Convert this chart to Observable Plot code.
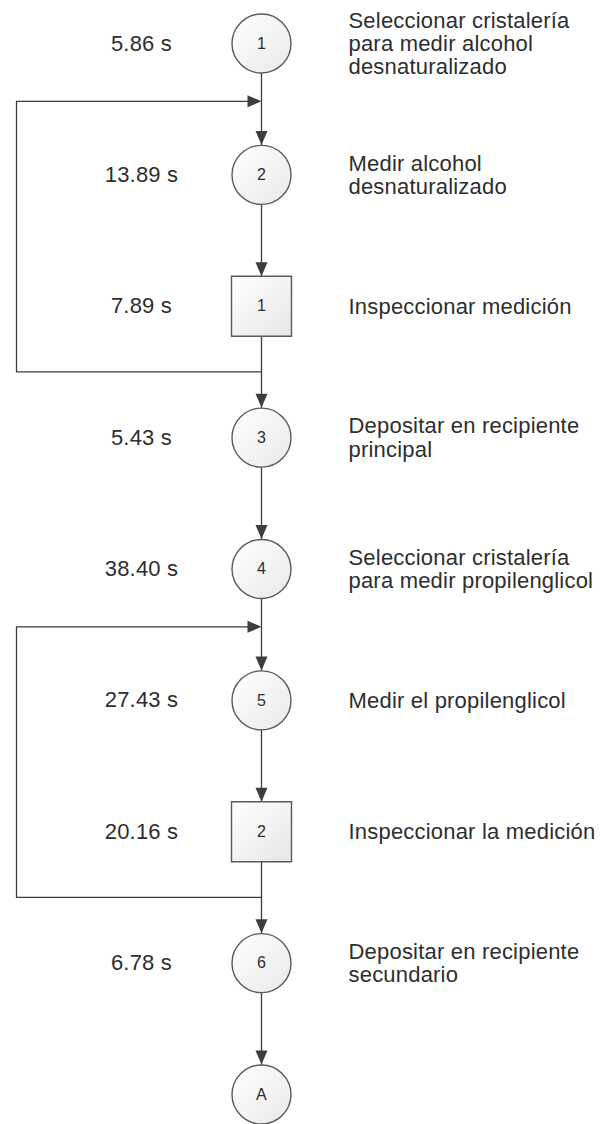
<!DOCTYPE html>
<html><head><meta charset="utf-8">
<script src="https://cdn.jsdelivr.net/npm/d3@7"></script>
<script src="https://cdn.jsdelivr.net/npm/@observablehq/plot@0.6"></script>
<style>html,body{margin:0;padding:0;background:#fff}#chart svg{display:block}</style>
</head><body><div id="chart"></div>
<script>
// ---- data ----
const stepKinds = ["operation","operation","inspection","operation","operation","operation","inspection","operation","connector"];
const stepNumbers = ["1","2","1","3","4","5","2","6","A"];
const stepTimes = ["5.86 s","13.89 s","7.89 s","5.43 s","38.40 s","27.43 s","20.16 s","6.78 s",""];
const stepDescriptions = [
  "Seleccionar cristalería\npara medir alcohol\ndesnaturalizado",
  "Medir alcohol\ndesnaturalizado",
  "Inspeccionar medición",
  "Depositar en recipiente\nprincipal",
  "Seleccionar cristalería\npara medir propilenglicol",
  "Medir el propilenglicol",
  "Inspeccionar la medición",
  "Depositar en recipiente\nsecundario",
  ""
];
const loopFrom = [2, 6];   // step after which the flow returns
const loopTo = [1, 5];     // step it returns to

// ---- layout / style ----
const W = 610, H = 1124;
const X_TIME = 141, X_NODE = 261, X_DESC = 348, X_LOOP = 16;
const R = 30, LOOP_TOP = 0.56, LOOP_BOTTOM = 0.5;
const LINE = "#3d3d3d", SHAPE = "#5a5a5a", TEXT = "#2e2e2e";

const steps = stepKinds.map((kind, i) => ({i, kind, num: stepNumbers[i], time: stepTimes[i], desc: stepDescriptions[i]}));
const loops = loopFrom.map((from, k) => ({loop: k, from, to: loopTo[k]}));
const loopPoints = loops.flatMap(l => [
  {loop: l.loop, x: X_NODE, y: l.from + LOOP_BOTTOM},
  {loop: l.loop, x: X_LOOP, y: l.from + LOOP_BOTTOM},
  {loop: l.loop, x: X_LOOP, y: l.to - LOOP_TOP},
  {loop: l.loop, x: X_NODE - 10, y: l.to - LOOP_TOP}
]);

const downTri = {draw(c){ c.moveTo(0,0); c.lineTo(-6,-14); c.lineTo(6,-14); c.closePath(); }};
const rightTri = {draw(c){ c.moveTo(0,0); c.lineTo(-14,-6); c.lineTo(-14,6); c.closePath(); }};
const squareSym = {draw(c){ c.moveTo(-R,-R); c.lineTo(R,-R); c.lineTo(R,R); c.lineTo(-R,R); c.closePath(); }};

const links = d3.range(steps.length - 1);

const chart = Plot.plot({
  width: W, height: H, margin: 0,
  x: {domain: [0, W], range: [0, W], axis: null},
  y: {domain: [0, steps.length - 1], range: [43, 1094], axis: null},
  style: {fontFamily: "'Liberation Sans', Arial, sans-serif", letterSpacing: "0.2px", background: "#fff", color: TEXT},
  marks: [
    Plot.link(links, {x1: X_NODE, x2: X_NODE, y1: d => d, y2: d => d + 1, stroke: LINE, strokeWidth: 1.3}),
    Plot.line(loopPoints, {x: "x", y: "y", z: "loop", stroke: LINE, strokeWidth: 1.3, curve: "linear"}),
    Plot.dot(steps.filter(s => s.kind !== "inspection"), {x: X_NODE, y: "i", r: R - 0.5, fill: "url(#nodeGrad)", stroke: SHAPE, strokeWidth: 1.4}),
    Plot.dot(steps.filter(s => s.kind === "inspection"), {x: X_NODE, y: "i", symbol: squareSym, fill: "url(#squareGrad)", stroke: SHAPE, strokeWidth: 1.4}),
    Plot.dot(links, {x: X_NODE, y: d => d + 1, dy: -R, symbol: downTri, fill: LINE, stroke: "none"}),
    Plot.dot(loops, {x: X_NODE, y: d => d.to - LOOP_TOP, symbol: rightTri, fill: LINE, stroke: "none"}),
    Plot.text(steps, {x: X_NODE, y: "i", text: "num", fontSize: 16, fill: TEXT}),
    Plot.text(steps.filter(s => s.time), {x: X_TIME, y: "i", text: "time", fontSize: 22, fill: TEXT}),
    Plot.text(steps.filter(s => s.desc), {x: X_DESC, y: "i", text: "desc", textAnchor: "start", lineAnchor: "middle", lineHeight: 1.05, fontSize: 22, fill: TEXT})
  ]
});

d3.select(chart).insert("defs", ":first-child").html(`
  <linearGradient id="nodeGrad" x1="0" y1="0" x2="1" y2="1">
    <stop offset="0" stop-color="#ffffff"/><stop offset="1" stop-color="#e9e9e9"/>
  </linearGradient>
  <linearGradient id="squareGrad" x1="0" y1="0" x2="1" y2="1">
    <stop offset="0" stop-color="#ffffff"/><stop offset="1" stop-color="#e6e6e6"/>
  </linearGradient>`);

document.getElementById("chart").append(chart);
</script>
</body></html>
